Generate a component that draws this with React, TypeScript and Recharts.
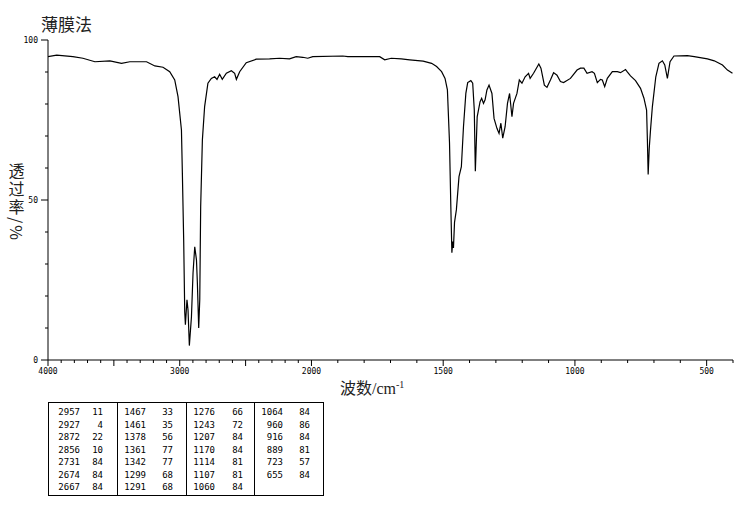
import React from "react"
import { LineChart, Line, XAxis, YAxis } from "recharts"

// spectrum trace (wavenumber, transmittance %)
const wavenumbers = [
  4000, 3934, 3811, 3735, 3644, 3530, 3442, 3379, 3252, 3189, 3127, 3076, 3038, 3013, 2987, 2980, 2970, 2962,
  2957, 2945, 2937, 2927, 2911, 2899, 2886, 2873, 2866, 2856, 2848, 2841, 2828, 2811, 2786, 2760, 2735, 2717,
  2697, 2677, 2646, 2608, 2583, 2570, 2545, 2495, 2419, 2318, 2242, 2167, 2116, 2066, 2028, 1995, 1881, 1862,
  1741, 1722, 1697, 1659, 1627, 1576, 1544, 1525, 1506, 1493, 1484, 1476, 1471, 1467, 1464, 1461, 1457, 1450,
  1440, 1431, 1423, 1414, 1407, 1395, 1388, 1382, 1378, 1371, 1360, 1354, 1347, 1341, 1334, 1326, 1315, 1307,
  1296, 1288, 1281, 1274, 1265, 1256, 1248, 1239, 1233, 1220, 1211, 1201, 1189, 1176, 1170, 1157, 1137, 1129,
  1116, 1106, 1093, 1081, 1068, 1055, 1043, 1017, 992, 979, 966, 954, 935, 926, 915, 903, 896, 887, 877, 858,
  839, 827, 808, 802, 789, 770, 751, 738, 728, 725, 722, 718, 713, 706, 693, 681, 668, 659, 649, 639, 624, 573,
  547, 497, 471, 440, 421, 402,
]
const transmittance = [
  94.8, 95.3, 94.8, 94.3, 93.2, 93.5, 92.7, 93.2, 93.2, 91.9, 91.5, 90.1, 87.5, 82.3, 71.9, 58.4, 37.5, 15,
  11, 18.8, 15.6, 4.5, 13.5, 27.2, 35.4, 31.3, 24, 10, 18.8, 47.9, 68.8, 79.2, 86.5, 88, 88.5, 87.7,
  89.3, 87.7, 89.6, 90.4, 89.6, 87.7, 90.1, 92.9, 94, 94.1, 94.3, 94.1, 94.8, 94.6, 94.3, 94.8, 95, 94.8,
  94.8, 93.8, 94.3, 94.1, 93.8, 93.4, 92.7, 91.7, 90.1, 88, 84.4, 67.8, 47.9, 33.5, 37, 35, 43, 46.9,
  57.3, 60.4, 72.9, 83.3, 86.7, 87.3, 86.5, 78.1, 59, 76, 80.7, 81.8, 80.2, 81.3, 84.4, 85.9, 83.3, 75.5,
  72.4, 70.8, 74, 69.3, 72.9, 80.2, 83.3, 76, 80.2, 83.3, 87.5, 86.5, 88.5, 89.6, 88, 89.6, 92.5, 91.2,
  85.9, 85.2, 87.5, 89.8, 89, 87, 86.7, 88, 90.6, 91.2, 91.2, 89.6, 90.1, 89.6, 86.7, 87.7, 87.5, 85.4, 88, 90.1,
  90.1, 89.8, 90.8, 90.1, 88.8, 87.3, 84.9, 81.8, 78.1, 69, 58, 66, 72, 79.2, 88.5, 92.7, 93.5, 92.2, 88, 93.2, 95, 95.1,
  94.8, 94.1, 93.5, 92.2, 90.6, 89.6,
]

// axis ticks
const xLabels = [4000, 3000, 2000, 1500, 1000, 500]
const yLabels = [0, 50, 100]

// peak table (4 columns)
const peakWave = [
  [2957, 2927, 2872, 2856, 2731, 2674, 2667],
  [1467, 1461, 1378, 1361, 1342, 1299, 1291],
  [1276, 1243, 1207, 1170, 1114, 1107, 1060],
  [1064, 960, 916, 889, 723, 655],
]
const peakT = [
  [11, 4, 22, 10, 84, 84, 84],
  [33, 35, 56, 77, 77, 68, 68],
  [66, 72, 84, 84, 81, 81, 84],
  [84, 86, 84, 81, 57, 84],
]

// split scale: 4000-2000 is compressed 2x
const toScale = (w: number) => (w >= 2000 ? (4000 - w) / 2 : 1000 + (2000 - w))
const toWave = (s: number) => (s <= 1000 ? 4000 - 2 * s : 2000 - (s - 1000))

const data = wavenumbers.map((w, i) => ({ s: toScale(w), t: transmittance[i] }))

const xTicks: number[] = []
for (let w = 4000; w >= 400; w -= 100) xTicks.push(toScale(w))
const yTicks: number[] = []
for (let v = 0; v <= 100; v += 10) yTicks.push(v)

const mono = "'DejaVu Sans Mono', monospace"
const cjk = "'Noto Sans CJK SC', sans-serif"

const XTick = ({ x, y, payload }: any) => {
  const w = Math.round(toWave(payload.value))
  const major = w % 500 === 0
  return (
    <g>
      <line x1={x} x2={x} y1={y} y2={y + (major ? 6 : 3)} stroke="#000" />
      {xLabels.includes(w) && (
        <text x={x} y={y + 14} textAnchor="middle" fontSize={8} fontFamily={mono} fill="#000">
          {w}
        </text>
      )}
    </g>
  )
}

const YTick = ({ x, y, payload }: any) => {
  const v = payload.value
  const major = yLabels.includes(v)
  return (
    <g>
      <line x1={x - (major ? 7 : 3)} x2={x} y1={y} y2={y} stroke="#000" />
      {major && (
        <text x={x - 10} y={y + 3} textAnchor="end" fontSize={8} fontFamily={mono} fill="#000">
          {v}
        </text>
      )}
    </g>
  )
}

const colLeft = [48, 117, 186, 254]
const waveRight = [80, 146, 215, 283]
const valRight = [103, 173, 243, 310]

export default function App() {
  return (
    <div style={{ position: "absolute", left: 0, top: 0, width: 737, height: 510, background: "#fff" }}>
      <div style={{ position: "absolute", left: 41, top: 11, fontSize: 17, color: "#222", fontFamily: cjk }}>
        薄膜法
      </div>

      <LineChart width={737} height={510} data={data} margin={{ top: 40, right: 4, bottom: 120, left: 18 }}>
        <XAxis
          dataKey="s"
          type="number"
          domain={[0, 2600]}
          ticks={xTicks}
          interval={0}
          height={30}
          tickSize={0}
          tickMargin={0}
          tickLine={false}
          axisLine={{ stroke: "#000" }}
          tick={(p: any) => <XTick {...p} />}
          allowDataOverflow
        />
        <XAxis
          xAxisId="top"
          orientation="top"
          type="number"
          domain={[0, 2600]}
          height={0}
          tick={false}
          tickLine={false}
          axisLine={{ stroke: "#000" }}
        />
        <YAxis
          type="number"
          domain={[0, 100]}
          ticks={yTicks}
          interval={0}
          width={30}
          tickSize={0}
          tickMargin={0}
          tickLine={false}
          axisLine={{ stroke: "#000" }}
          tick={(p: any) => <YTick {...p} />}
          allowDataOverflow
        />
        <YAxis
          yAxisId="right"
          orientation="right"
          type="number"
          domain={[0, 100]}
          width={0}
          tick={false}
          tickLine={false}
          axisLine={{ stroke: "#000" }}
        />
        <Line
          type="linear"
          dataKey="t"
          stroke="#000"
          strokeWidth={1.2}
          dot={false}
          activeDot={false}
          isAnimationActive={false}
        />
      </LineChart>

      <div
        style={{
          position: "absolute", left: 340, top: 375, fontSize: 16, color: "#222",
          fontFamily: "'Liberation Serif', 'Noto Sans CJK SC', serif", whiteSpace: "nowrap",
        }}
      >
        波数/cm<sup style={{ fontSize: 10 }}>-1</sup>
      </div>

      <svg style={{ position: "absolute", left: 0, top: 0 }} width={737} height={510}>
        {/* vertical y title, one text run */}
        <text
          x={16.5}
          y={163}
          fontSize={16}
          fontFamily={cjk}
          fill="#222"
          letterSpacing={2}
          style={{ writingMode: "vertical-rl" }}
        >
          透过率/%
        </text>

        <rect x={48.5} y={402.5} width={275} height={93} fill="none" stroke="#000" />
        {colLeft.slice(1).map((x) => (
          <line key={x} x1={x + 0.5} x2={x + 0.5} y1={402} y2={496} stroke="#000" />
        ))}
        {peakWave.map((col, c) =>
          col.map((w, r) => (
            <g key={`${c}-${r}`} fontFamily={mono} fontSize={9} fill="#000">
              <text x={waveRight[c]} y={415 + r * 12.5} textAnchor="end">{w}</text>
              <text x={valRight[c]} y={415 + r * 12.5} textAnchor="end">{peakT[c][r]}</text>
            </g>
          ))
        )}
      </svg>
    </div>
  )
}
